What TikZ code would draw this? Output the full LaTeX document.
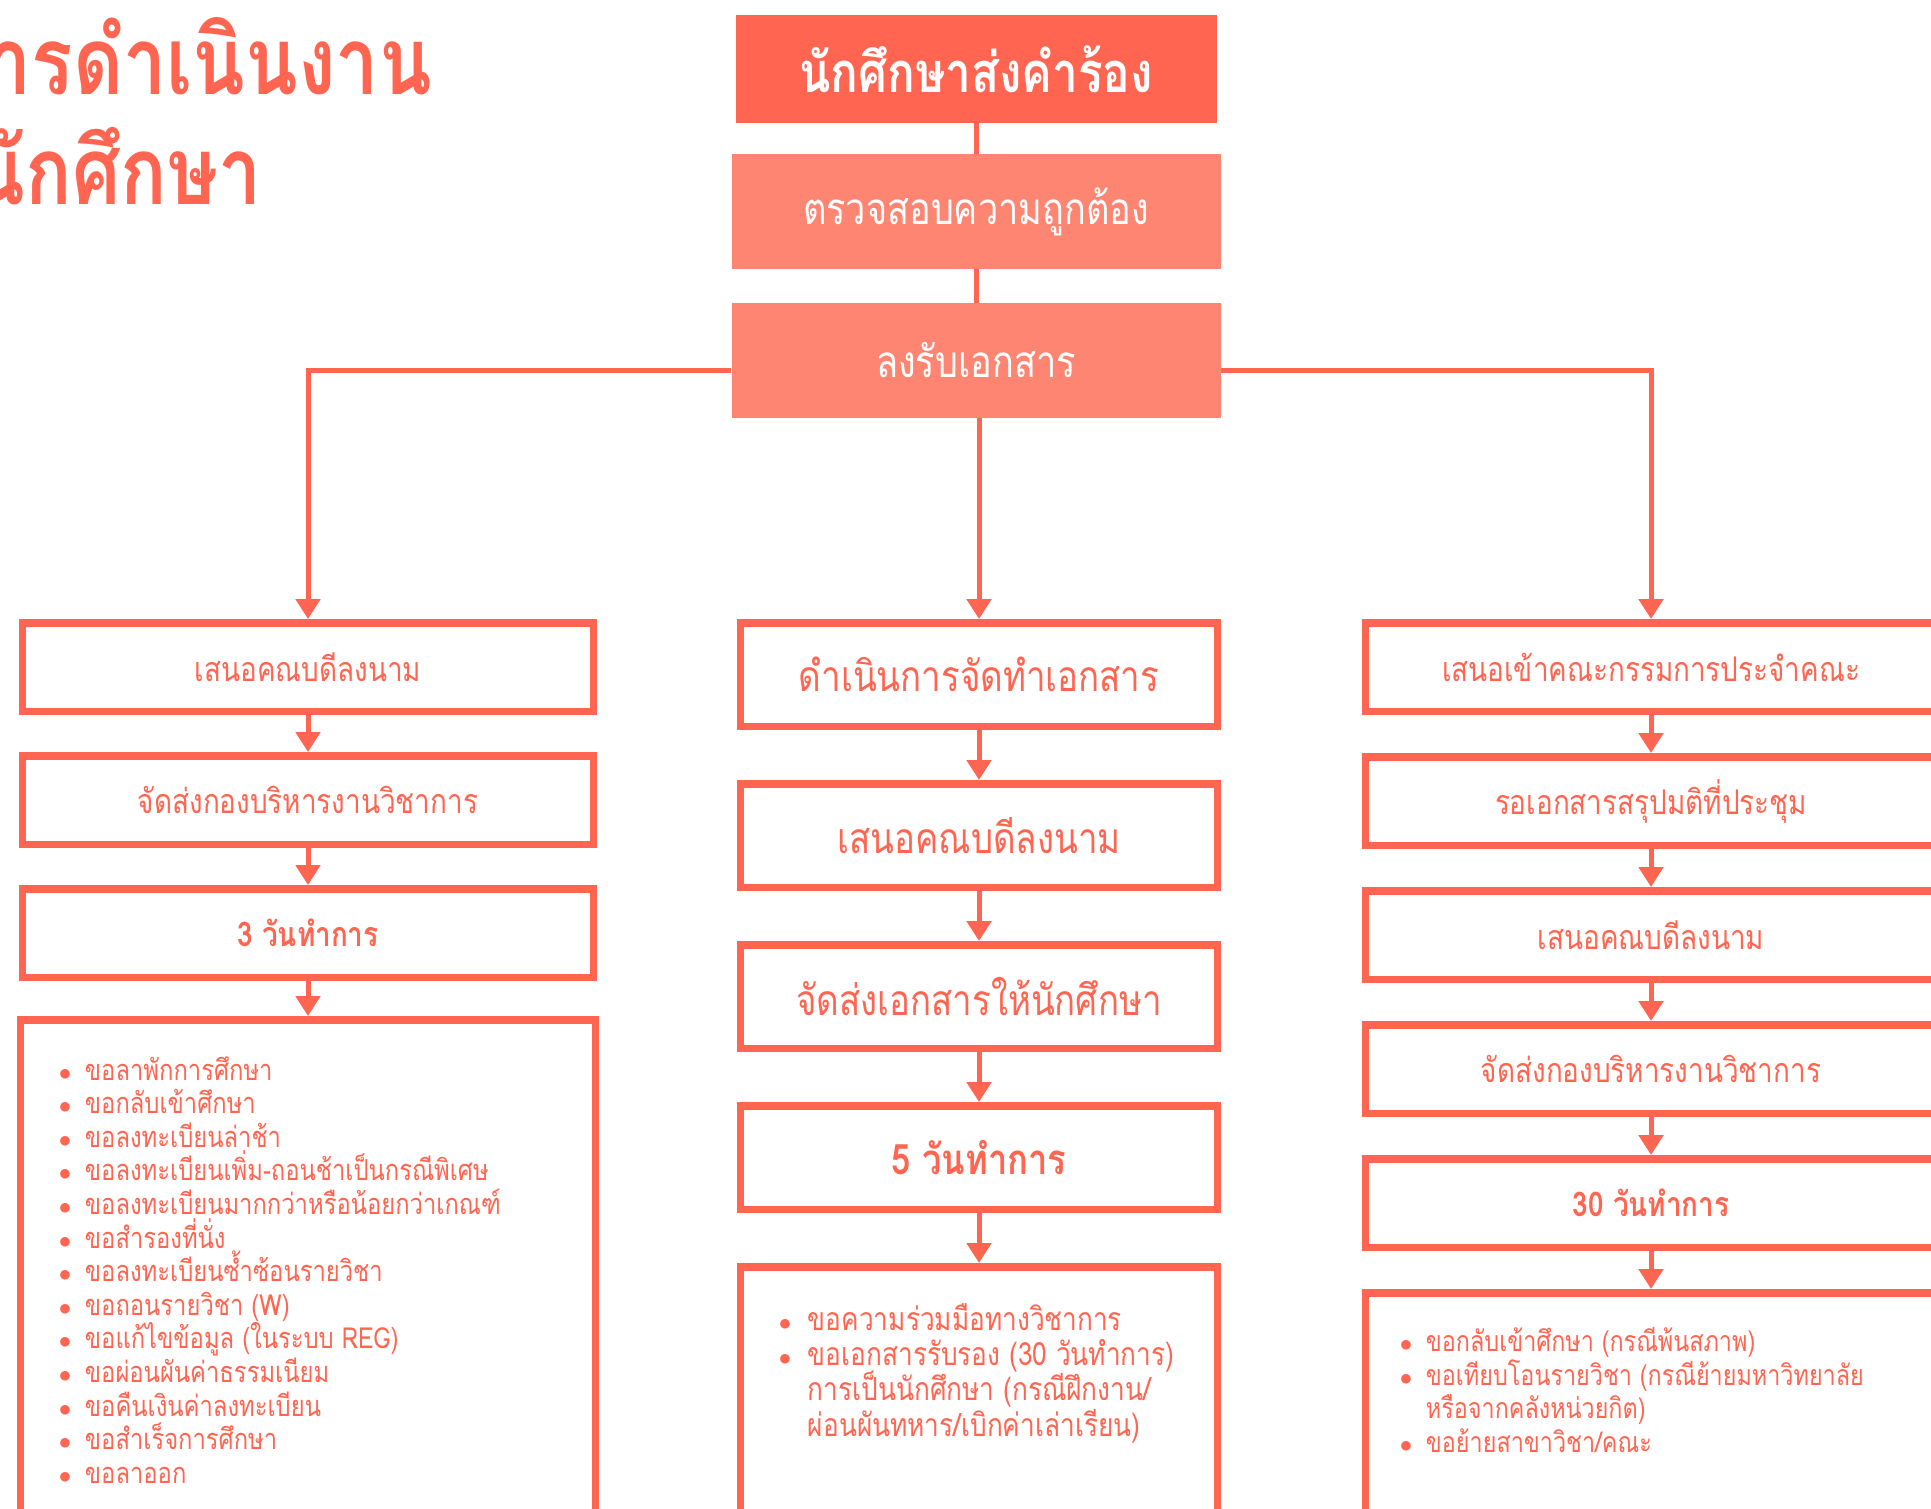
\documentclass[tikz,border=0pt]{standalone}
\usepackage{fontspec}
\setmainfont[Script=Thai,FakeStretch=0.82]{Loma}
\usepackage{tikz}
\usetikzlibrary{positioning,arrows.meta}
\definecolor{coral}{HTML}{FF6550}
\definecolor{coralsoft}{HTML}{FF8573}
\newcommand{\dotmark}{\makebox[26pt][l]{$\bullet$}}
\newcommand{\dotgap}{\hspace*{26pt}}
\newcommand{\tightlines}{\lineskiplimit=-50pt\relax}
\tikzstyle{line} = [draw=coral,line width=5pt]
\tikzstyle{flow} = [line,-{Triangle[length=20pt,width=24pt]}]
\tikzstyle{topbox} = [rectangle,fill=coral,text=white,minimum width=481pt,minimum height=108pt,font=\fontsize{56}{62}\selectfont\bfseries]
\tikzstyle{softbox} = [rectangle,fill=coralsoft,text=white,minimum width=489pt,minimum height=115pt,font=\fontsize{44}{50}\selectfont]
\tikzstyle{stepbox} = [rectangle,draw=coral,line width=7.5pt,fill=white,text=coral]
\tikzstyle{sidebox} = [stepbox,minimum width=571pt,minimum height=88.5pt,font=\fontsize{34}{40}\selectfont]
\tikzstyle{midbox} = [stepbox,minimum width=477pt,minimum height=103.5pt,font=\fontsize{42.5}{48}\selectfont]
\tikzstyle{itemlist} = [text=coral,inner sep=0pt,align=left]

\begin{document}
\begin{tikzpicture}[x=1pt,y=-1pt,node distance=37pt]
\clip (0,0) rectangle (1931,1508);
\node[anchor=base east,text=coral,inner sep=0pt,font=\fontsize{94}{100}\selectfont\bfseries] (titletop) at (432,94) {การดำเนินงาน};
\node[anchor=base east,text=coral,inner sep=0pt,font=\fontsize{94}{100}\selectfont\bfseries] (titlelow) at (262,204) {นักศึกษา};

\node[topbox] (student) at (976,69) {นักศึกษาส่งคำร้อง};
\node[softbox] (check) at (976,211.5) {ตรวจสอบความถูกต้อง};
\node[softbox] (receive) at (976,360.5) {ลงรับเอกสาร};
\path[line] (student) edge (check);
\path[line] (check) edge (receive);

\node[sidebox] (lsign) at (308,667) {เสนอคณบดีลงนาม};
\node[sidebox] (lsend) [below = of lsign] {จัดส่งกองบริหารงานวิชาการ};
\node[sidebox,font=\fontsize{34}{40}\selectfont\bfseries] (ldays) [below = of lsend] {3 วันทำการ};
\node[stepbox,minimum width=575pt,minimum height=520pt] (lreq) [below = 35pt of ldays] {};
\node[itemlist,font=\fontsize{29}{33.6}\selectfont\tightlines] (lreqlist) [below right = 40pt and 42pt of lreq.north west] {%
\strut\dotmark ขอลาพักการศึกษา\\
\dotmark ขอกลับเข้าศึกษา\\
\dotmark ขอลงทะเบียนล่าช้า\\
\dotmark ขอลงทะเบียนเพิ่ม-ถอนช้าเป็นกรณีพิเศษ\\
\dotmark ขอลงทะเบียนมากกว่าหรือน้อยกว่าเกณฑ์\\
\dotmark ขอสำรองที่นั่ง\\
\dotmark ขอลงทะเบียนซ้ำซ้อนรายวิชา\\
\dotmark ขอถอนรายวิชา (W)\\
\dotmark ขอแก้ไขข้อมูล (ในระบบ REG)\\
\dotmark ขอผ่อนผันค่าธรรมเนียม\\
\dotmark ขอคืนเงินค่าลงทะเบียน\\
\dotmark ขอสำเร็จการศึกษา\\
\dotmark ขอลาออก};

\node[midbox] (mmake) at (979,674.5) {ดำเนินการจัดทำเอกสาร};
\node[midbox] (msign) [below = 50pt of mmake] {เสนอคณบดีลงนาม};
\node[midbox] (msend) [below = 50pt of msign] {จัดส่งเอกสารให้นักศึกษา};
\node[midbox,font=\fontsize{42}{48}\selectfont\bfseries] (mdays) [below = 50pt of msend] {5 วันทำการ};
\node[stepbox,minimum width=477pt,minimum height=400pt] (mreq) [below = 50pt of mdays] {};
\node[itemlist,font=\fontsize{32}{35.3}\selectfont\tightlines] (mreqlist) [below right = 40pt and 42pt of mreq.north west] {%
\strut\dotmark\hspace{3pt}ขอความร่วมมือทางวิชาการ\\
\dotmark\hspace{3pt}ขอเอกสารรับรอง (30 วันทำการ)\\
\dotgap\hspace{3pt}การเป็นนักศึกษา (กรณีฝึกงาน/\\
\dotgap\hspace{3pt}ผ่อนผันทหาร/เบิกค่าเล่าเรียน)};

\node[sidebox] (rmeet) at (1651,667) {เสนอเข้าคณะกรรมการประจำคณะ};
\node[sidebox] (rwait) [below = 38pt of rmeet] {รอเอกสารสรุปมติที่ประชุม};
\node[sidebox] (rsign) [below = 38pt of rwait] {เสนอคณบดีลงนาม};
\node[sidebox] (rsend) [below = 38pt of rsign] {จัดส่งกองบริหารงานวิชาการ};
\node[sidebox,font=\fontsize{34}{40}\selectfont\bfseries] (rdays) [below = 38pt of rsend] {30 วันทำการ};
\node[stepbox,minimum width=571pt,minimum height=400pt] (rreq) [below = 38pt of rdays] {};
\node[itemlist,font=\fontsize{28.5}{33.7}\selectfont\tightlines] (rreqlist) [below right = 38pt and 38pt of rreq.north west] {%
\strut\dotmark ขอกลับเข้าศึกษา (กรณีพ้นสภาพ)\\
\dotmark ขอเทียบโอนรายวิชา (กรณีย้ายมหาวิทยาลัย\\
\dotgap หรือจากคลังหน่วยกิต)\\
\dotmark ขอย้ายสาขาวิชา/คณะ};

\draw[flow] ([yshift=-10pt]receive.west) -| (lsign);
\draw[flow] ([yshift=-10pt]receive.east) -| (rmeet);
\draw[flow] (receive.south -| mmake.north) -- (mmake);
\foreach \a/\b in {lsign/lsend,lsend/ldays,ldays/lreq,mmake/msign,msign/msend,msend/mdays,mdays/mreq,rmeet/rwait,rwait/rsign,rsign/rsend,rsend/rdays,rdays/rreq}
  \draw[flow] (\a) -- (\b);
\end{tikzpicture}
\end{document}
